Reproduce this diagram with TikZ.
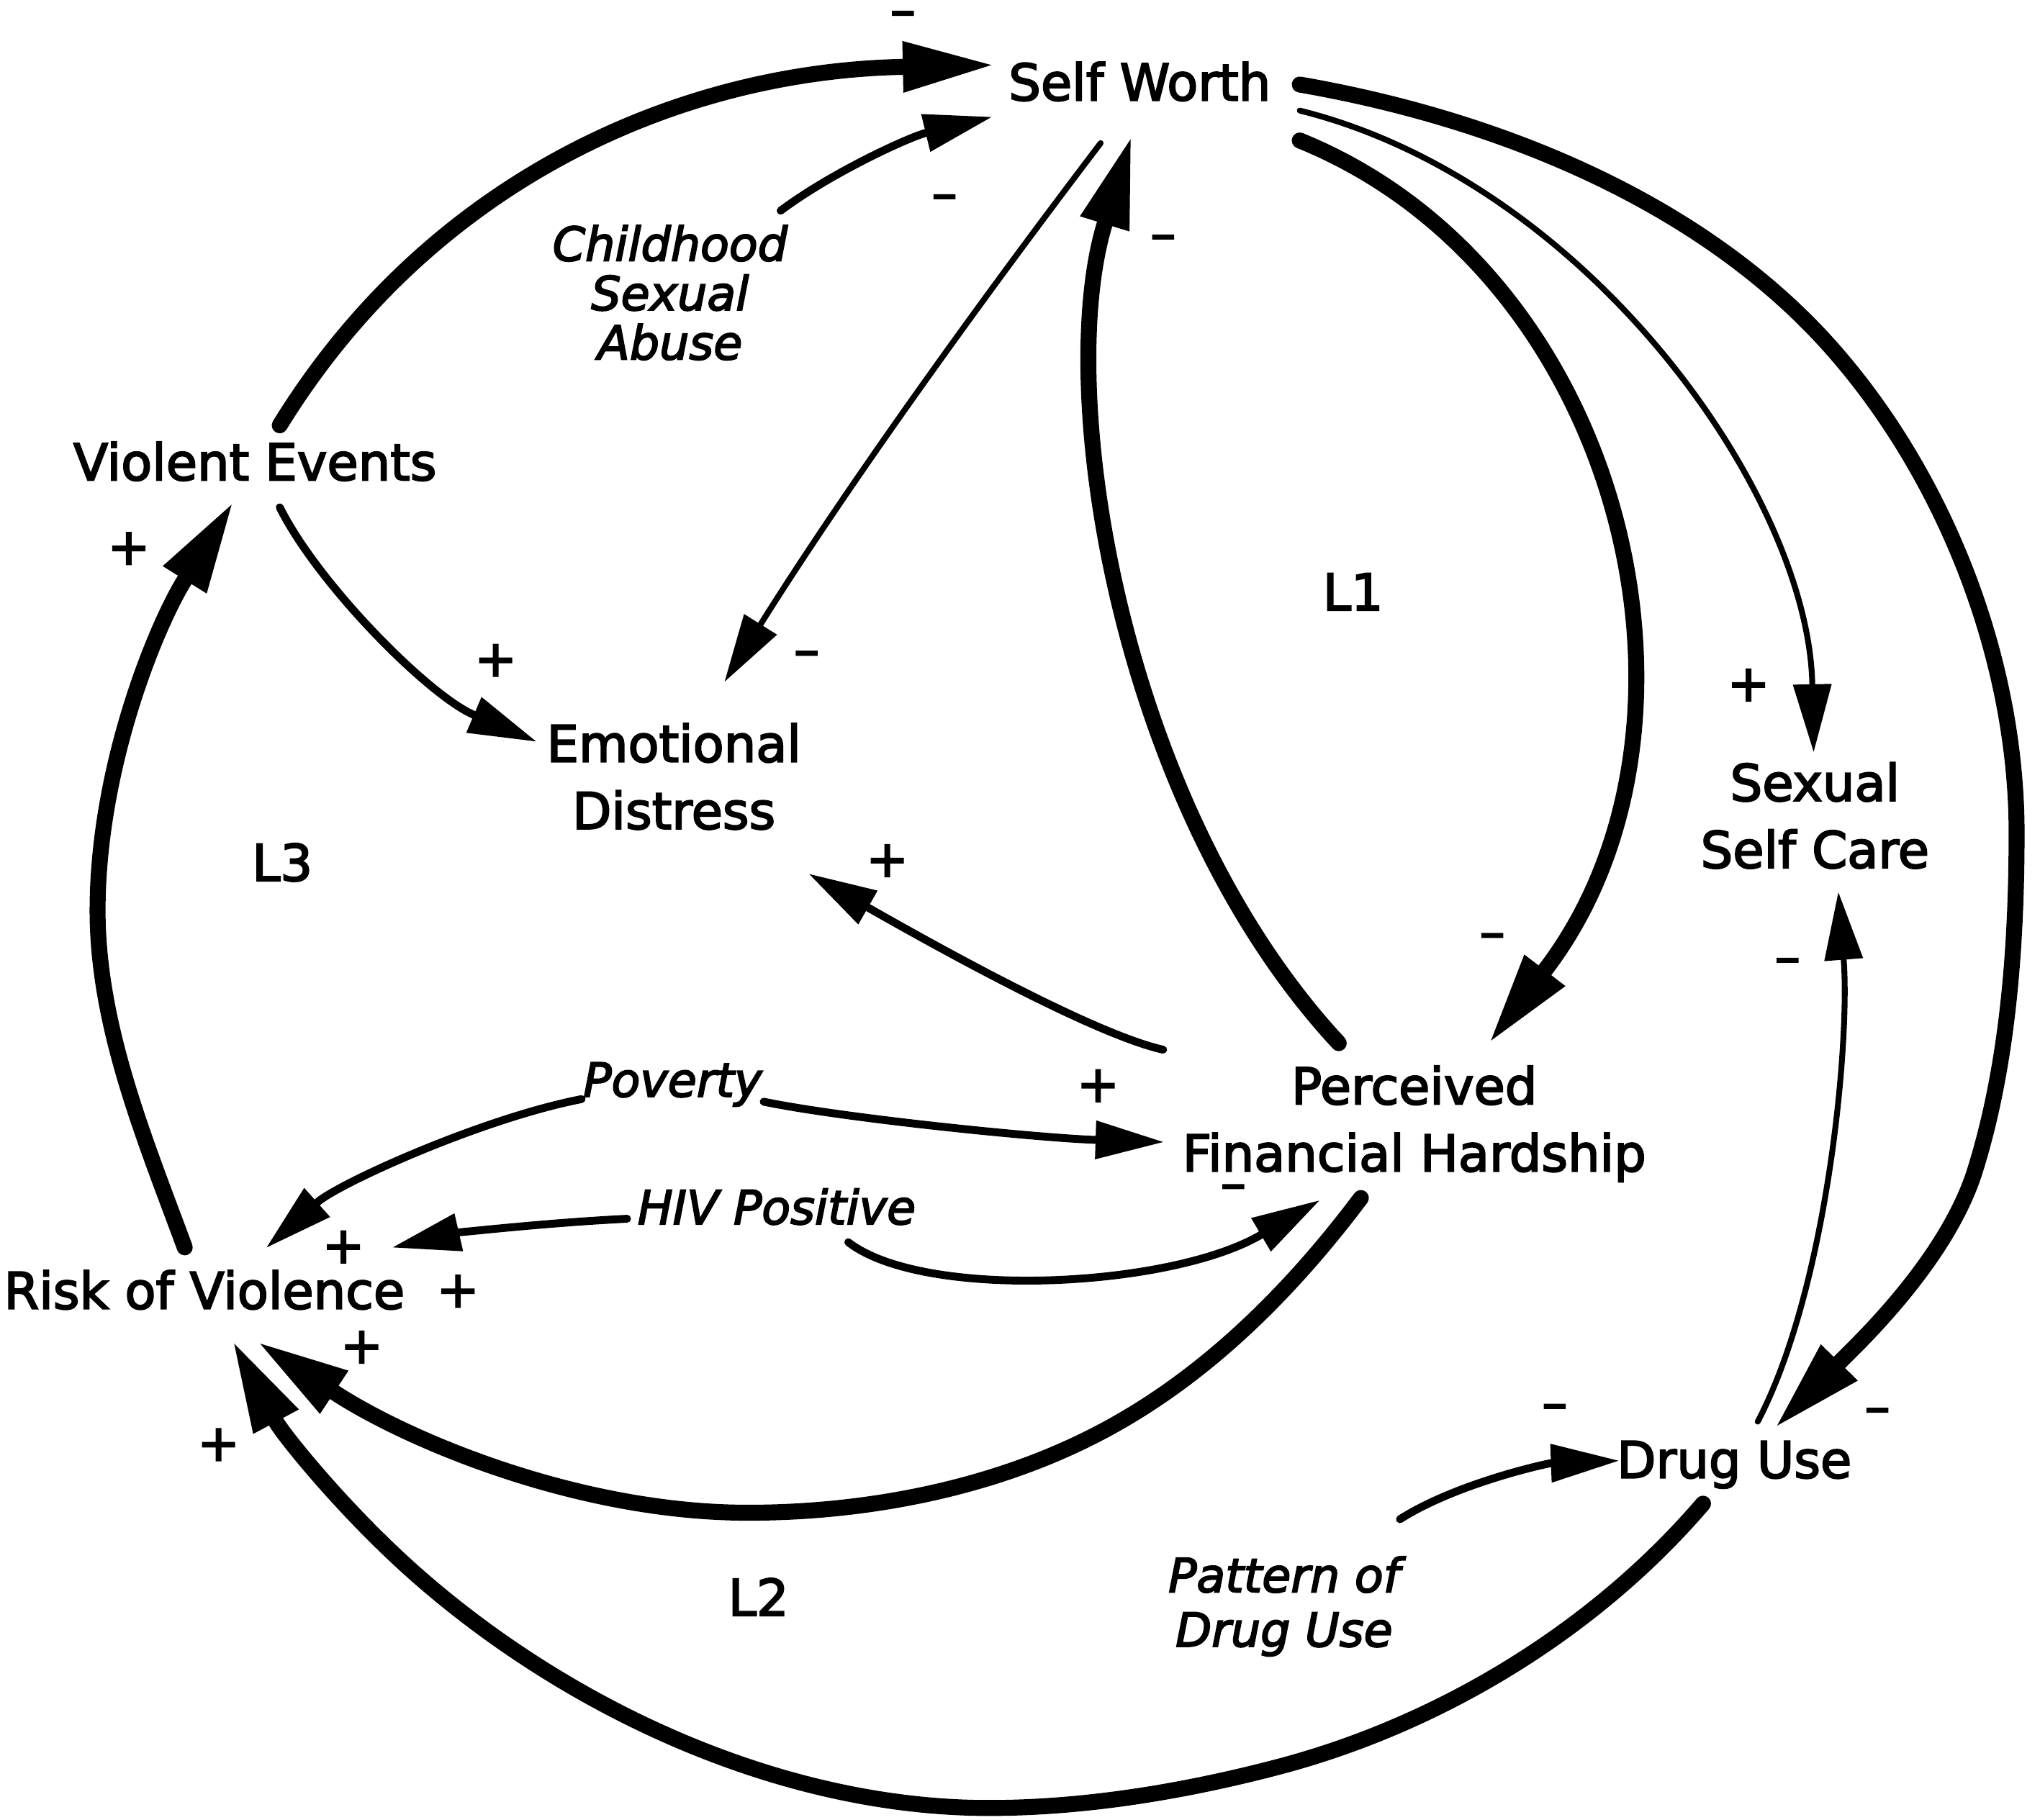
\documentclass[tikz,border=0pt]{standalone}
\usepackage{fontspec}
\setmainfont{DejaVu Sans}[FakeBold=3]
\usetikzlibrary{arrows.meta}
\begin{document}
\begin{tikzpicture}[x=0.018074cm, y=-0.018074cm,
  every node/.style={inner sep=0pt, outer sep=0pt},
  var/.style={font=\fontsize{20}{26.5}\selectfont, align=center},
  one/.style={text height=14.6pt, text depth=0pt},
  ext/.style={font=\itshape\fontsize{18.5}{19.5}\selectfont, align=center},
  sgn/.style={font=\fontsize{20}{24}\selectfont, text height=11.2pt, text depth=0pt},
  heavy/.style={line width=6.3pt, line cap=round, -{Triangle[length=35pt,width=20.5pt,line width=0pt]}},
  mid/.style={line width=3.1pt, line cap=round, -{Triangle[length=26.7pt,width=15.4pt,line width=0pt]}},
  fine/.style={line width=2.3pt, line cap=round, -{Triangle[length=26.7pt,width=15.4pt,line width=0pt]}}
]
\useasboundingbox (0,0) rectangle (1568,1398.7);

% variables
\node[var,one] (sw)  at (876,63)   {Self Worth};
\node[var,one] (ve)  at (196,355)  {Violent Events};
\node[var]     (ed)  at (518,597)  {Emotional\\Distress};
\node[var]     (ssc) at (1395,627) {Sexual\\Self Care};
\node[var]     (pfh) at (1087,864) {Perceived\\Financial Hardship};
\node[var,one] (rov) at (157,992)  {Risk of Violence};
\node[var,one] (du)  at (1333,1122){Drug Use};

% external factors
\node[ext] (csa) at (515,225) {Childhood\\Sexual\\Abuse};
\node[ext,text height=13.5pt,text depth=0pt] (pov) at (517,830) {Poverty};
\node[ext,text height=13.5pt,text depth=0pt] (hiv) at (597,928) {HIV Positive};
\node[ext,font=\itshape\fontsize{18.5}{21.5}\selectfont] (pdu) at (987,1235) {Pattern of\\Drug Use};

% loop labels
\node[var,one] (l1) at (1040,455) {L1};
\node[var,one] (l2) at (583,1228) {L2};
\node[var,one] (l3) at (217,663)  {L3};

% connectors
\draw[heavy] ([shift={(19,-28)}]ve.center) .. controls (330,140) and (520,55) .. ([shift={(-114,-13)}]sw.center);
\draw[mid] ([shift={(85,-63)}]csa.center) .. controls (640,132) and (700,105) .. ([shift={(-114,27)}]sw.center);
\draw[fine] ([shift={(-30,47)}]sw.center) .. controls (744,244) and (646,382) .. ([shift={(39,-73)}]ed.center);
\draw[mid] ([shift={(19,35)}]ve.center) .. controls (245,450) and (330,535) .. ([shift={(-106,-27)}]ed.center);
\draw[heavy] ([shift={(123,45)}]sw.center) .. controls (1250,210) and (1330,560) .. ([shift={(59,-64)}]pfh.center);
\draw[heavy] ([shift={(-58,-62)}]pfh.center) .. controls (860,620) and (810,300) .. ([shift={(-7,44)}]sw.center);
\draw[fine] ([shift={(123,22)}]sw.center) .. controls (1220,140) and (1390,380) .. ([shift={(-1,-49)}]ssc.center);
\draw[heavy] ([shift={(123,2)}]sw.center) .. controls (1149,91) and (1308,154) .. (1409,269)
   .. controls (1496,368) and (1550,508) .. (1550,640)
   .. controls (1550,730) and (1543,820) .. (1518,900)
   .. controls (1496,970) and (1426,1035) .. ([shift={(33,-26)}]du.center);
\draw[fine] ([shift={(18,-29)}]du.center) .. controls (1405,990) and (1422,800) .. ([shift={(18,59)}]ssc.center);
\draw[mid] ([shift={(89,-67)}]pdu.center) .. controls (1120,1140) and (1190,1125) .. ([shift={(-89,1)}]du.center);
\draw[heavy] ([shift={(-24,34)}]du.center) .. controls (1226,1253) and (1108,1325) .. (984,1358)
   .. controls (912,1377) and (835,1390) .. (760,1390)
   .. controls (604,1390) and (443,1317) .. (325,1215)
   .. controls (266,1164) and (217,1102) .. ([shift={(23,41)}]rov.center);
\draw[heavy] ([shift={(-41,57)}]pfh.center) .. controls (995,989) and (933,1052) .. (859,1094)
   .. controls (775,1142) and (672,1163) .. (575,1163)
   .. controls (443,1163) and (311,1106) .. ([shift={(43,41)}]rov.center);
\draw[mid] ([shift={(-193,-57)}]pfh.center) .. controls (840,795) and (715,725) .. ([shift={(104,75)}]ed.center);
\draw[mid] ([shift={(70,17)}]pov.center) .. controls (650,860) and (800,875) .. ([shift={(-193,14)}]pfh.center);
\draw[mid] ([shift={(-70,15)}]pov.center) .. controls (370,860) and (260,910) .. ([shift={(48,-33)}]rov.center);
\draw[mid] ([shift={(-115,9)}]hiv.center) .. controls (420,940) and (350,948) .. ([shift={(145,-33)}]rov.center);
\draw[mid] ([shift={(55,27)}]hiv.center) .. controls (710,1000) and (900,990) .. ([shift={(-73,59)}]pfh.center);
\draw[heavy] ([shift={(-15,-33)}]rov.center) .. controls (111,875) and (75,789) .. (75,700)
   .. controls (75,590) and (120,481) .. ([shift={(-18,33)}]ve.center);

% polarity signs
\node[sgn] (s1)  at (694,10)    {–};
\node[sgn] (s2)  at (726,151)   {–};
\node[sgn] (s3)  at (894,182)   {–};
\node[sgn] (s4)  at (620,502)   {–};
\node[sgn] (s5)  at (381,509)   {+};
\node[sgn] (s6)  at (99,423)    {+};
\node[sgn] (s7)  at (1344,528)  {+};
\node[sgn] (s8)  at (682,663)   {+};
\node[sgn] (s9)  at (1147,719)  {–};
\node[sgn] (s10) at (1374,738)  {–};
\node[sgn] (s11) at (844,836)   {+};
\node[sgn] (s12) at (948,912)   {–};
\node[sgn] (s13) at (264,960)   {+};
\node[sgn] (s14) at (352,994)   {+};
\node[sgn] (s15) at (278,1037)  {+};
\node[sgn] (s16) at (168,1112)  {+};
\node[sgn] (s17) at (1195,1081) {–};
\node[sgn] (s18) at (1443,1084) {–};
\end{tikzpicture}
\end{document}
